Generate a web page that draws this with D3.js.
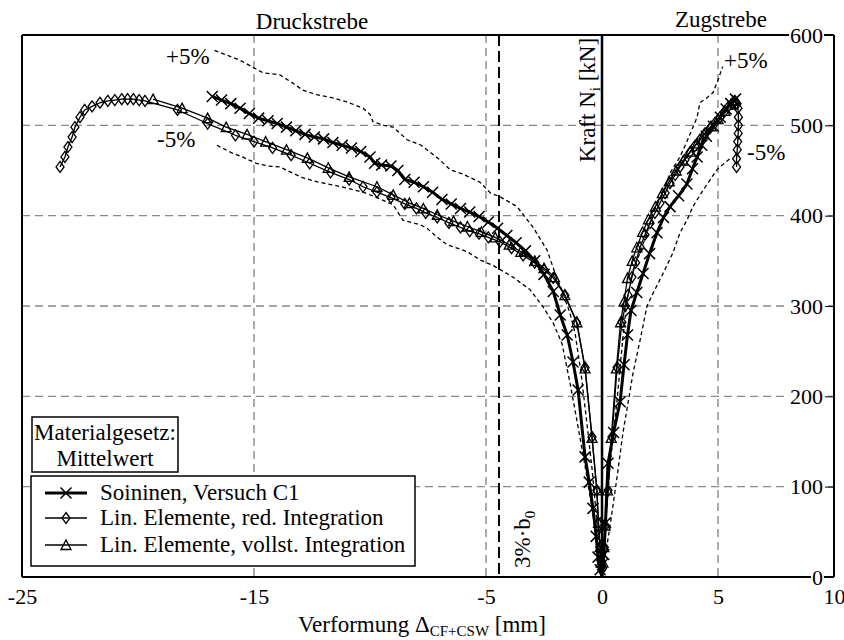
<!DOCTYPE html>
<html><head><meta charset="utf-8">
<script src="https://cdn.jsdelivr.net/npm/d3@7"></script>
<style>body{margin:0;background:#fff} svg{display:block;font-family:"Liberation Serif","Times New Roman",serif}</style>
</head><body><svg id="c" width="844" height="640"></svg>
<script>
// ---- data (deformation [mm], force [kN]) ----
const xTicks = [-25, -15, -5, 0, 5, 10];
const yTicks = [0, 100, 200, 300, 400, 500, 600];
const gridX = [-15, -5, 5];
const gridY = [100, 200, 300, 400, 500];
const limit3pct = -4.44;

const soininenComp = [[-16.8,532],[-16.4,528],[-16.0,524],[-15.6,519],[-15.2,513],[-14.8,508],[-14.4,505],[-14.0,502],[-13.6,498],[-13.2,494],[-12.8,490],[-12.4,487],[-12.0,485],[-11.6,481],[-11.2,478],[-10.8,475],[-10.4,471],[-10.0,465],[-9.8,458],[-9.5,456],[-9.1,455],[-8.8,450],[-8.5,440],[-8.1,437],[-7.7,432],[-7.3,426],[-6.9,418],[-6.5,413],[-6.1,408],[-5.7,404],[-5.3,399],[-4.9,393],[-4.5,386],[-4.1,378],[-3.7,370],[-3.3,361],[-2.9,350],[-2.5,335],[-2.1,316],[-1.8,290],[-1.5,268],[-1.25,238],[-1.03,207],[-0.73,133],[-0.55,105],[-0.39,76],[-0.25,45],[-0.17,22],[-0.08,8],[0,0]];
const soininenTens = [[0,0],[0.08,25],[0.15,60],[0.26,126],[0.5,160],[0.78,194],[0.95,235],[1.1,268],[1.25,295],[1.5,315],[1.77,336],[2.05,358],[2.37,381],[2.65,398],[2.93,410],[3.3,422],[3.66,435],[3.9,452],[4.1,465],[4.3,478],[4.5,488],[4.8,499],[5.1,509],[5.35,518],[5.55,524],[5.75,529]];

const redComp = [[-23.36,454],[-23.15,465],[-23.02,476],[-22.84,487],[-22.72,498],[-22.5,509],[-22.3,517],[-21.98,521],[-21.64,525],[-21.3,527],[-21.0,528],[-20.7,529],[-20.45,529],[-20.2,529],[-19.95,528],[-19.7,527],[-18.3,517],[-17.0,502],[-15.8,489],[-15.0,482],[-14.2,475],[-13.4,467],[-12.6,458],[-11.7,448],[-10.9,440],[-10.3,432],[-9.7,426],[-9.1,420],[-8.5,413],[-8.0,408],[-7.6,403],[-7.1,398],[-6.6,392],[-6.1,387],[-5.7,383],[-5.3,380],[-4.9,376],[-4.4,371],[-3.9,364],[-3.4,356],[-2.9,348],[-2.5,340],[-2.1,331],[-1.6,312],[-1.1,282],[-0.73,232],[-0.43,155],[-0.22,96],[-0.16,60],[-0.09,33],[-0.05,18],[-0.02,8],[0,0]];
const redTens = [[0,0],[0.03,10],[0.06,20],[0.1,33],[0.14,57],[0.26,96],[0.43,155],[0.65,232],[0.86,282],[1.0,300],[1.12,312],[1.29,332],[1.45,348],[1.64,365],[1.85,379],[2.07,392],[2.28,403],[2.5,414],[2.72,425],[2.93,436],[3.15,445],[3.36,454],[3.58,462],[3.79,470],[4.0,477],[4.22,484],[4.44,491],[4.66,497],[4.88,503],[5.09,509],[5.27,515],[5.43,520],[5.6,524],[5.73,527],[5.82,524],[5.86,519],[5.88,509],[5.88,500],[5.87,491],[5.85,482],[5.83,473],[5.8,463],[5.8,454]];

const fullComp = [[-19.35,529],[-18.1,519],[-17.0,508],[-16.2,498],[-15.3,490],[-14.5,482],[-13.6,473],[-12.7,464],[-11.8,453],[-10.9,443],[-9.7,432],[-9.0,423],[-8.3,414],[-7.7,408],[-7.1,401],[-6.4,394],[-5.8,388],[-5.2,382],[-4.6,376],[-4.0,368],[-3.5,360],[-2.9,350],[-2.5,342],[-2.05,332],[-1.6,312],[-1.08,282],[-0.73,231],[-0.43,154],[-0.22,96],[-0.15,60],[-0.08,33],[-0.04,16],[0,0]];
const fullTens = [[0,0],[0.04,16],[0.08,33],[0.13,57],[0.24,96],[0.4,154],[0.62,231],[0.8,282],[0.95,305],[1.1,331],[1.3,350],[1.5,365],[1.75,382],[2.0,396],[2.3,410],[2.6,425],[2.9,438],[3.2,450],[3.5,461],[3.8,471],[4.1,480],[4.4,490],[4.7,499],[5.0,507],[5.3,516],[5.55,523],[5.7,527]];

const plus5Comp = [[-16.7,583],[-16.2,578],[-15.6,572],[-15.1,565],[-14.6,558],[-13.9,556],[-13.4,548],[-12.9,539],[-12.3,534],[-11.7,531],[-11.0,526],[-10.3,519],[-10.0,512],[-9.87,504],[-9.4,500],[-9.0,498],[-8.7,491],[-8.4,484],[-7.8,478],[-7.4,470],[-7.0,462],[-6.55,451],[-6.0,446],[-5.26,437],[-4.8,425],[-4.4,421],[-3.66,410],[-2.97,387],[-2.37,362],[-2.03,337],[-1.68,314],[-1.38,292],[-1.16,270],[-0.9,225],[-0.65,170],[-0.43,120],[-0.25,70],[-0.1,25],[0,0]];
const minus5Comp = [[-16.6,478],[-16.0,470],[-15.5,465],[-14.9,458],[-14.4,455],[-13.9,454],[-13.4,448],[-12.9,442],[-12.2,437],[-11.6,434],[-10.9,430],[-10.3,426],[-9.7,420],[-9.0,412],[-8.58,395],[-7.84,390],[-7.54,386],[-7.1,376],[-6.68,368],[-5.8,360],[-5.26,351],[-4.7,345],[-3.84,332],[-3.1,318],[-2.54,299],[-2.1,281],[-1.72,258],[-1.38,215],[-1.03,166],[-0.65,111],[-0.3,55],[-0.1,15],[0,0]];
const plus5Tens = [[0,0],[0.13,49],[0.34,122],[0.65,196],[0.9,265],[1.08,307],[1.34,340],[1.64,359],[1.94,381],[2.2,403],[2.63,425],[2.93,447],[3.36,465],[3.66,482],[3.92,498],[4.1,509],[4.22,525],[4.5,530],[4.78,536],[5.0,550],[5.2,565]];
const minus5Tens = [[0,0],[0.06,11],[0.34,55],[0.65,111],[0.9,159],[1.34,226],[1.64,262],[1.94,300],[2.2,314],[2.63,336],[3.06,359],[3.36,381],[3.66,395],[3.92,410],[4.35,428],[4.96,451],[5.6,465]];

const legendNames = ["Soininen, Versuch C1", "Lin. Elemente, red. Integration", "Lin. Elemente, vollst. Integration"];

// ---- chart ----
const svg = d3.select("#c");
const x = d3.scaleLinear().domain([-25, 10]).range([22, 834]);
const y = d3.scaleLinear().domain([0, 600]).range([577, 35]);
const FS = 23, TFS = 22;

// grid
const grid = svg.append("g").attr("stroke", "#888").attr("stroke-width", 1.4).attr("stroke-dasharray", "8,5");
grid.selectAll(".gx").data(gridX).join("line").attr("x1", d => x(d)).attr("x2", d => x(d)).attr("y1", y(600)).attr("y2", y(0));
grid.selectAll(".gy").data(gridY).join("line").attr("x1", x(-25)).attr("x2", x(10)).attr("y1", d => y(d)).attr("y2", d => y(d));

// 3% b0 limit line
svg.append("line").attr("x1", x(limit3pct)).attr("x2", x(limit3pct)).attr("y1", y(600)).attr("y2", y(0))
  .attr("stroke", "#000").attr("stroke-width", 2).attr("stroke-dasharray", "11,5");

const line = d3.line().x(d => x(d[0])).y(d => y(d[1]));

// tolerance bands
[plus5Comp, minus5Comp, plus5Tens, minus5Tens].forEach(s => {
  svg.append("path").attr("d", line(s)).attr("fill", "none").attr("stroke", "#000")
    .attr("stroke-width", 1.3).attr("stroke-dasharray", "4,3");
});

const symDiamond = "M0,-5.5L4,0L0,5.5L-4,0Z";
const symTriangle = "M0,-5L5,4.5L-5,4.5Z";
const symX = "M-5.5,-5.5L5.5,5.5M-5.5,5.5L5.5,-5.5";

function drawSeries(data, width, sym, symW) {
  const g = svg.append("g");
  g.append("path").attr("d", line(data)).attr("fill", "none").attr("stroke", "#000").attr("stroke-width", width).attr("stroke-linejoin", "round");
  g.selectAll("path.m").data(data.filter(d => !(d[0] === 0 && d[1] === 0))).join("path").attr("class", "m")
    .attr("transform", d => `translate(${x(d[0])},${y(d[1])})`).attr("d", sym)
    .attr("fill", "none").attr("stroke", "#000").attr("stroke-width", symW);
}
drawSeries(redComp, 1.3, symDiamond, 1.3);
drawSeries(redTens, 1.3, symDiamond, 1.3);
drawSeries(fullComp, 1.3, symTriangle, 1.3);
drawSeries(fullTens, 1.3, symTriangle, 1.3);
drawSeries(soininenComp, 3, symX, 1.5);
drawSeries(soininenTens, 3, symX, 1.5);

// frame
const frame = svg.append("g").attr("stroke", "#000").attr("stroke-width", 2);
frame.append("line").attr("x1", x(-25)).attr("x2", x(10)).attr("y1", y(600)).attr("y2", y(600));
frame.append("line").attr("x1", x(-25)).attr("x2", x(-25)).attr("y1", y(600)).attr("y2", y(0));
frame.append("line").attr("x1", x(-25)).attr("x2", x(10)).attr("y1", y(0)).attr("y2", y(0));
frame.append("line").attr("x1", x(10)).attr("x2", x(10)).attr("y1", y(600)).attr("y2", y(0));
svg.append("line").attr("x1", x(0)).attr("x2", x(0)).attr("y1", y(600)).attr("y2", y(0)).attr("stroke", "#000").attr("stroke-width", 2.5);

// x axis
const xa = svg.append("g").attr("transform", `translate(0,${y(0)})`)
  .call(d3.axisBottom(x).tickValues(xTicks).tickSize(0).tickPadding(11).tickFormat(d => String(d)));
xa.select(".domain").remove();
xa.selectAll("text").attr("font-size", TFS).attr("font-family", "Liberation Serif").attr("fill", "#000");

// y axis (right, labels inside)
const ya = svg.append("g").attr("transform", `translate(${x(10)},0)`)
  .call(d3.axisLeft(y).tickValues(yTicks).tickSize(9).tickPadding(2).tickFormat(d => String(d)));
ya.select(".domain").remove();
ya.selectAll("line").attr("stroke", "#000").attr("stroke-width", 1);
ya.selectAll("text").attr("font-size", TFS).attr("font-family", "Liberation Serif").attr("fill", "#000");
ya.selectAll(".tick").each(function() {
  const t = d3.select(this).select("text");
  const b = t.node().getBBox();
  d3.select(this).insert("rect", "text").attr("x", b.x - 1).attr("y", b.y + 3).attr("width", b.width + 2).attr("height", b.height - 6).attr("fill", "#fff");
});

const T = (xx, yy, s, anchor) => svg.append("text").attr("x", xx).attr("y", yy).attr("font-size", FS).attr("text-anchor", anchor || "start").text(s);

// titles
T(312, 29, "Druckstrebe", "middle");
T(721, 27, "Zugstrebe", "middle");
const xt = svg.append("text").attr("x", 422).attr("y", 632).attr("font-size", FS).attr("text-anchor", "middle");
xt.append("tspan").text("Verformung Δ");
xt.append("tspan").attr("font-size", 15).attr("dy", 4).text("CF+CSW");
xt.append("tspan").attr("dy", -4).text(" [mm]");
const yt = svg.append("text").attr("transform", "translate(595,100) rotate(-90)").attr("font-size", FS).attr("text-anchor", "middle");
yt.append("tspan").text("Kraft N");
yt.append("tspan").attr("font-size", 15).attr("dy", 5).text("i");
yt.append("tspan").attr("dy", -5).text(" [kN]");
const bt = svg.append("text").attr("transform", "translate(530,568) rotate(-90)").attr("font-size", FS).attr("text-anchor", "start");
bt.append("tspan").text("3%·b");
bt.append("tspan").attr("font-size", 15).attr("dy", 5).text("0");

// band labels
T(166, 64, "+5%");
T(157, 147, "-5%");
T(724, 68, "+5%");
T(747, 160, "-5%");

// material box
svg.append("rect").attr("x", 32).attr("y", 417).attr("width", 146).attr("height", 55).attr("fill", "#fff").attr("stroke", "#000").attr("stroke-width", 1.5);
T(105, 440, "Materialgesetz:", "middle");
T(105, 466, "Mittelwert", "middle");

// legend
svg.append("rect").attr("x", 31).attr("y", 476).attr("width", 384).attr("height", 90).attr("fill", "#fff").attr("stroke", "#000").attr("stroke-width", 1.5);
const legSyms = [[symX, 3, 1.5], [symDiamond, 1.3, 1.3], [symTriangle, 1.3, 1.3]];
const legY = [493, 518, 545];
legendNames.forEach((n, i) => {
  svg.append("line").attr("x1", 45).attr("x2", 87).attr("y1", legY[i]).attr("y2", legY[i]).attr("stroke", "#000").attr("stroke-width", legSyms[i][1]);
  svg.append("path").attr("d", legSyms[i][0]).attr("transform", `translate(66,${legY[i]})`).attr("fill", "none").attr("stroke", "#000").attr("stroke-width", legSyms[i][2]);
  T(100, legY[i] + 7, n);
});
</script></body></html>
